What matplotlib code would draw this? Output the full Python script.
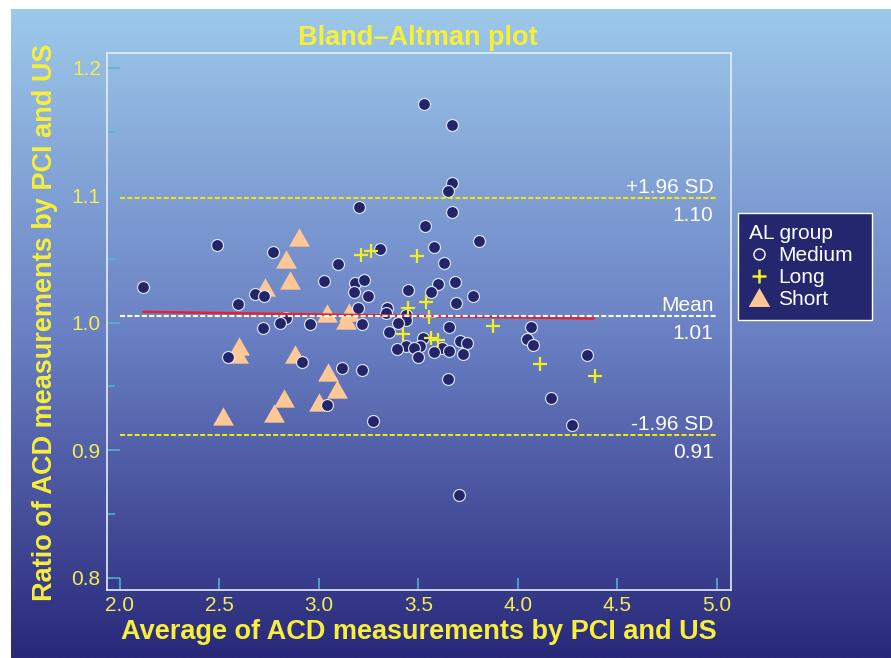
import numpy as np
import matplotlib
matplotlib.use("Agg")
import matplotlib.pyplot as plt
from matplotlib.lines import Line2D
from matplotlib.path import Path

# ---------------- data ----------------
medium_x = [3.529, 3.667, 3.667, 3.651, 3.200, 3.667, 3.535, 2.490, 3.806, 2.771,
            3.307, 3.577, 3.095, 3.628, 2.118, 3.028, 3.180, 3.229, 3.685, 3.596,
            3.447, 2.680, 2.724, 3.174, 3.246, 3.561, 3.772, 2.593, 3.194, 3.691,
            3.340, 3.336, 3.440, 2.835, 3.437, 2.805, 2.953, 3.216, 3.396, 2.718,
            3.656, 4.067, 3.350, 3.521, 4.046, 3.711, 3.746, 4.078, 3.437, 3.509,
            3.477, 3.391, 3.618, 3.578, 3.652, 3.723, 3.497, 2.541, 2.913, 4.345,
            3.115, 3.217, 3.648, 4.166, 3.043, 3.273, 4.270, 3.705]
medium_y = [1.172, 1.155, 1.110, 1.103, 1.091, 1.087, 1.076, 1.061, 1.064, 1.0555,
            1.058, 1.0594, 1.046, 1.047, 1.0284, 1.0328, 1.0314, 1.0338, 1.032, 1.030,
            1.0257, 1.0228, 1.0206, 1.0238, 1.0213, 1.0241, 1.0213, 1.0147, 1.0115, 1.0157,
            1.0117, 1.008, 1.0059, 1.0036, 1.0018, 0.9997, 0.9989, 0.9989, 0.9994, 0.9956,
            0.9966, 0.9968, 0.9929, 0.9881, 0.9875, 0.9858, 0.9843, 0.9823, 0.9818, 0.9815,
            0.9798, 0.979, 0.980, 0.9771, 0.9776, 0.9755, 0.9733, 0.9728, 0.9688, 0.9744,
            0.9643, 0.9627, 0.9557, 0.9406, 0.9351, 0.9225, 0.9199, 0.8648]

long_x = [3.212, 3.260, 3.491, 3.448, 3.538, 3.552, 3.423, 3.561, 3.598, 3.874, 4.113, 4.386]
long_y = [1.0535, 1.0565, 1.0527, 1.0113, 1.0165, 1.0042, 0.9914, 0.9877, 0.9862, 0.9971, 0.9678, 0.9578]

short_x = [2.901, 2.836, 2.856, 2.731, 3.040, 3.150, 3.137, 2.597, 2.595, 2.879,
           3.047, 3.089, 2.827, 3.000, 2.776, 2.519]
short_y = [1.0669, 1.0500, 1.0336, 1.0278, 1.0077, 1.0086, 1.0020, 0.9818, 0.9755, 0.9753,
           0.9611, 0.9483, 0.9410, 0.9378, 0.9292, 0.9266]

reg_x = [2.12, 4.38]
reg_y = [1.0085, 1.0033]

mean_ratio = 1.005
upper_loa = 1.098
lower_loa = 0.912
line_span = [2.0, 5.0]
line_names = ["+1.96 SD", "Mean", "-1.96 SD"]
line_values = ["1.10", "1.01", "0.91"]

x_ticks = [2.0, 2.5, 3.0, 3.5, 4.0, 4.5, 5.0]
y_ticks = [0.8, 0.9, 1.0, 1.1, 1.2]
y_minor = [0.85, 0.95, 1.05, 1.15]

# ---------------- styling ----------------
W, H = 891, 658
plt.rcParams['font.family'] = ['Liberation Sans', 'DejaVu Sans']
fig = plt.figure(figsize=(W / 100, H / 100), dpi=100, facecolor='white')

# gradient background
bg = fig.add_axes([11 / W, 0, 880 / W, 649 / H])
stops = np.array([[157, 201, 234], [106, 128, 196], [41, 40, 122]]) / 255.0
t = np.linspace(0, 1, 400)
grad = np.empty((400, 1, 3))
for c in range(3):
    grad[:, 0, c] = np.interp(t, [0, 0.5, 1], stops[:, c])
bg.imshow(grad, aspect='auto', extent=[0, 1, 0, 1], interpolation='bilinear')
bg.axis('off')

ax = fig.add_axes([107 / W, 68 / H, 624 / W, 537.5 / H])
ax.set_facecolor('none')
ax.set_xlim(1.935, 5.071)
ax.set_ylim(0.7902, 1.2121)

tick_yellow = '#f3ec55'
label_yellow = '#f7ef3a'
tick_cyan = '#52b8d0'

for s in ax.spines.values():
    s.set_color('#e4edf8')
    s.set_linewidth(1.2)

ax.set_xticks(x_ticks)
ax.set_xticklabels([f"{v:.1f}" for v in x_ticks])
ax.set_yticks(y_ticks)
ax.set_yticklabels([f"{v:.1f}" for v in y_ticks])
ax.set_yticks(y_minor, minor=True)
ax.tick_params(axis='x', direction='in', length=8.6, width=1.1, color=tick_cyan,
               labelcolor=tick_yellow, labelsize=15, pad=4.5)
ax.tick_params(axis='y', which='major', direction='in', length=9.4, width=1.1, color=tick_cyan,
               labelcolor=tick_yellow, labelsize=15, pad=4.5)
ax.tick_params(axis='y', which='minor', direction='in', length=5.8, width=1.1, color=tick_cyan)

# triangle marker slightly wider than tall
tri = Path([(-1, -0.88), (1, -0.88), (0, 0.88), (-1, -0.88)],
           [Path.MOVETO, Path.LINETO, Path.LINETO, Path.CLOSEPOLY])

ax.plot(short_x, short_y, ls='', marker=tri, ms=15, mfc='#fdc896', mec='none', zorder=2)
ax.plot(medium_x, medium_y, ls='', marker='o', ms=8.6, mfc='#23256b', mec='#e4ecf7',
        mew=0.8, zorder=3)
ax.plot(long_x, long_y, ls='', marker='+', ms=9.5, mec='#f2ee22', mew=1.6, zorder=4)

ax.plot(reg_x, reg_y, color='#e3232b', lw=1.8, zorder=5)
ax.plot(line_span, [mean_ratio] * 2, color='white', lw=1.5, dashes=(2.4, 1.1), zorder=6)
ax.plot(line_span, [upper_loa] * 2, color='#f0e41a', lw=1.5, dashes=(2.4, 1.1), zorder=6)
ax.plot(line_span, [lower_loa] * 2, color='#f0e41a', lw=1.5, dashes=(2.4, 1.1), zorder=6)

for yv, nm, val in zip([upper_loa, mean_ratio, lower_loa], line_names, line_values):
    ax.annotate(nm, xy=(line_span[1], yv), xytext=(-2.5, 3.5), textcoords='offset points',
                ha='right', va='baseline', color='white', fontsize=15, zorder=7)
    ax.annotate(val, xy=(line_span[1], yv), xytext=(-2.5, -16.5), textcoords='offset points',
                ha='right', va='baseline', color='white', fontsize=15, zorder=7)

# titles / labels
fig.text(418 / W, 1 - 45 / H, "Bland\u2013Altman plot", ha='center', va='baseline',
         fontsize=19.5, fontweight='bold', color=label_yellow)
fig.text(419 / W, 1 - 639 / H, "Average of ACD measurements by PCI and US", ha='center',
         va='baseline', fontsize=19.5, fontweight='bold', color=label_yellow)
fig.text(52 / W, 1 - 322 / H, "Ratio of ACD measurements by PCI and US", ha='center',
         va='baseline', rotation=90, rotation_mode='anchor', fontsize=19.5,
         fontweight='bold', color=label_yellow)

# legend
handles = [
    Line2D([], [], ls='', marker='o', ms=8, mfc='none', mec='white', mew=1.0),
    Line2D([], [], ls='', marker='+', ms=10.5, mec='#f2ee22', mew=1.8),
    Line2D([], [], ls='', marker=tri, ms=15.5, mfc='#fdc896', mec='none'),
]
leg = fig.legend(handles, ["Medium", "Long", "Short"], title="AL group",
                 loc='upper left', bbox_to_anchor=(738 / W, 1 - 318 / H, 134 / W, 105 / H),
                 bbox_transform=fig.transFigure, mode='expand', frameon=True, fancybox=False,
                 edgecolor='white', facecolor='#25276e', framealpha=1,
                 fontsize=15, title_fontsize=15, labelcolor='white',
                 borderpad=0.55, labelspacing=0.13, handlelength=0.95,
                 handletextpad=0.42, borderaxespad=0, alignment='left')
leg.get_title().set_color('white')
leg.get_frame().set_linewidth(1.0)

fig.savefig('out.png', dpi=100, facecolor='white')
